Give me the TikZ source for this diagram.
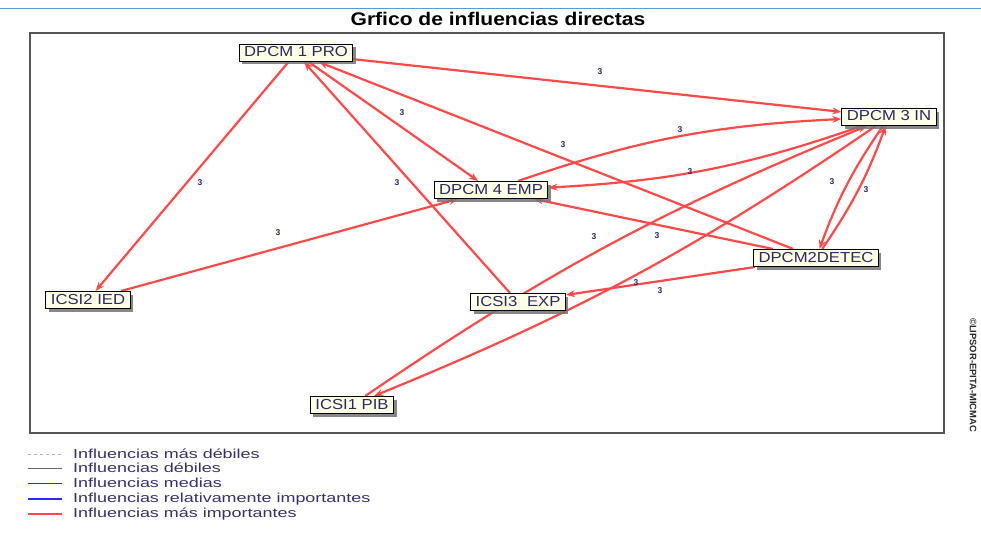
\documentclass[tikz,border=0pt]{standalone}
\usepackage{fontspec}
\setmainfont{Liberation Sans}[FakeStretch=1.15]
\newfontfamily\legfont{Liberation Sans}[FakeStretch=1.38]
\newfontfamily\plainfont{Liberation Sans}
\usetikzlibrary{arrows.meta,shadows}
\pgfdeclarelayer{edges}
\pgfsetlayers{edges,main}
\definecolor{edgered}{RGB}{255,72,72}
\definecolor{nodefill}{RGB}{255,255,230}
\definecolor{navy}{RGB}{40,40,100}
\definecolor{legtext}{RGB}{58,47,107}
\definecolor{framegray}{RGB}{85,85,85}
\definecolor{topblue}{RGB}{91,155,213}
\definecolor{legblue}{RGB}{40,40,255}
\begin{document}
\begin{tikzpicture}[x=1pt,y=-1pt,
  var/.style={draw=black, line width=1.1pt, fill=nodefill, inner xsep=5pt, inner ysep=2pt,
    text height=10.5pt, text depth=2.5pt, text=navy, font=\fontsize{14.5}{15}\selectfont,
    drop shadow={shadow xshift=3pt, shadow yshift=-3pt, fill=black!55, opacity=0.85}},
  infl/.style={edgered, line width=2.2pt, -{Stealth[length=9pt,width=7pt]}},
  wt/.style={font=\plainfont\bfseries\fontsize{8.5}{9}\selectfont, text=navy, inner sep=0pt},
  legline/.style={line width=1pt},
  legtxt/.style={anchor=west, inner sep=0pt, text=legtext, font=\legfont\fontsize{13}{14}\selectfont}
]
\useasboundingbox (0,0) rectangle (981,532);

% title and frame
\draw[topblue, line width=1.5pt] (0,8.5) -- (981,8.5);
\node[font=\bfseries\fontsize{18.3}{20}\selectfont, inner sep=0pt, anchor=base] (title) at (498,26) {Grfico de influencias directas};
\draw[framegray, line width=1.8pt] (30,33) rectangle (944,433);

% variables
\node[var] (pro) at (296,53) {DPCM 1 PRO};
\node[var] (in) at (889,117) {DPCM 3 IN};
\node[var] (emp) at (491,190) {DPCM 4 EMP};
\node[var] (detec) at (816,258) {DPCM2DETEC};
\node[var] (ied) at (88,300) {ICSI2 IED};
\node[var] (exp) at (518,302) {ICSI3\hspace{0.35em} EXP};
\node[var] (pib) at (352,405) {ICSI1 PIB};

% influences
\begin{pgfonlayer}{edges}
\draw[infl] (pro) -- (in);
\draw[infl] (pro) -- (ied);
\draw[infl] (pro) -- (emp);
\draw[infl] (exp) -- (pro);
\draw[infl] (detec) -- (pro);
\draw[infl] (emp) to[bend left=8] (in);
\draw[infl] (in) to[bend left=8] (emp);
\draw[infl] (ied) -- (emp);
\draw[infl] (detec) -- (emp);
\draw[infl] (in) to[bend right=7] (detec);
\draw[infl] (detec) to[bend right=7] (in);
\draw[infl] (pib) to[bend left=6] (in);
\draw[infl] (in) to[bend left=6] (pib);
\draw[infl] (detec) -- (exp);
\end{pgfonlayer}

% weights
\node[wt] (w1) at (600,72) {3};
\node[wt] (w2) at (402,113) {3};
\node[wt] (w3) at (200,183) {3};
\node[wt] (w4) at (397,183) {3};
\node[wt] (w5) at (563,145) {3};
\node[wt] (w6) at (680,130) {3};
\node[wt] (w7) at (690,172) {3};
\node[wt] (w8) at (278,233) {3};
\node[wt] (w9) at (832,182) {3};
\node[wt] (w10) at (866,190) {3};
\node[wt] (w11) at (594,237) {3};
\node[wt] (w12) at (657,236) {3};
\node[wt] (w13) at (636,283) {3};
\node[wt] (w14) at (660,291) {3};

% copyright
\node[rotate=-90, font=\plainfont\bfseries\fontsize{9.4}{10}\selectfont, text=black!85, inner sep=0pt] (copy) at (973,375) {©LIPSOR-EPITA-MICMAC};

% legend
\coordinate (la1) at (28,454); \coordinate (lb1) at (62,454);
\coordinate (la2) at (28,468); \coordinate (lb2) at (62,468);
\coordinate (la3) at (28,483); \coordinate (lb3) at (62,483);
\coordinate (la4) at (28,499); \coordinate (lb4) at (62,499);
\coordinate (la5) at (28,514); \coordinate (lb5) at (62,514);
\draw[legline, black!30, dash pattern=on 3pt off 3pt] (la1) -- (lb1);
\draw[legline, black!60] (la2) -- (lb2);
\draw[legline, legblue] (la3) -- (lb3);
\draw[legblue, line width=2pt] (la4) -- (lb4);
\draw[edgered, line width=2.2pt] (la5) -- (lb5);
\node[legtxt] (t1) at (73,454) {Influencias más débiles};
\node[legtxt] (t2) at (73,468) {Influencias débiles};
\node[legtxt] (t3) at (73,483) {Influencias medias};
\node[legtxt] (t4) at (73,499) {Influencias relativamente importantes};
\node[legtxt] (t5) at (73,514) {Influencias más importantes};
\end{tikzpicture}
\end{document}
